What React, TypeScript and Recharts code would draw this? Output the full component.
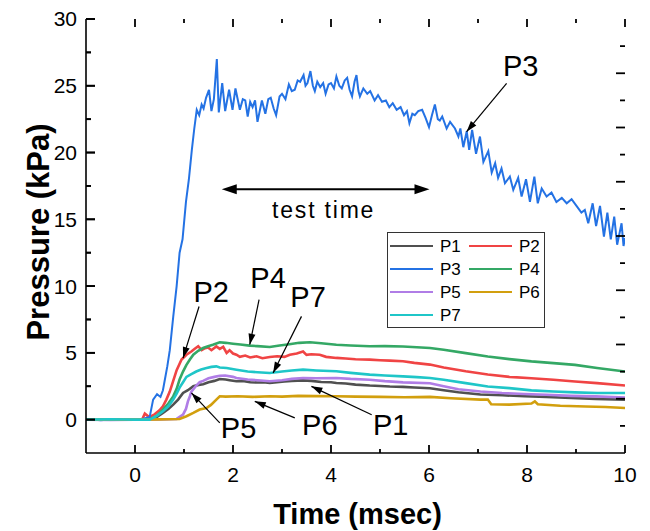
import React from "react";
import { LineChart, Line, XAxis, YAxis, ReferenceLine, ReferenceDot, Legend } from "recharts";

type Pair = [number, number];

// pressure traces, [time msec, kPa]
const P1: Pair[] = [
  [-1, 0], [-0.5, 0.02], [0, 0], [0.3, 0.02], [0.45, 0.2], [0.57, 0.5], [0.68, 0.8], [0.78, 1.12],
  [0.88, 1.5], [0.98, 2.0], [1.08, 2.2], [1.19, 2.5], [1.3, 2.6], [1.39, 2.65], [1.5, 2.8], [1.62, 2.9],
  [1.73, 3.04], [1.85, 3.0], [1.93, 2.95], [2.07, 2.87], [2.2, 2.9], [2.35, 2.8], [2.5, 2.78], [2.62, 2.8],
  [2.75, 2.74], [2.9, 2.8], [3.05, 2.85], [3.2, 2.9], [3.43, 2.94], [3.6, 2.9], [3.8, 2.82], [4.0, 2.8],
  [4.11, 2.74], [4.3, 2.7], [4.5, 2.62], [4.79, 2.55], [5.0, 2.52], [5.2, 2.48], [5.47, 2.45], [5.7, 2.4],
  [6.02, 2.35], [6.3, 2.2], [6.6, 2.05], [7.05, 1.88], [7.5, 1.82], [7.95, 1.75], [8.4, 1.7], [8.9, 1.62],
  [9.4, 1.55], [10, 1.5],
];

const P2: Pair[] = [
  [-1, 0], [-0.5, 0], [0, 0.02], [0.15, 0.05], [0.2, 0.45], [0.25, 0.3], [0.3, 0.2], [0.4, 0.4],
  [0.5, 0.7], [0.57, 1.0], [0.64, 1.5], [0.71, 2.1], [0.78, 2.9], [0.85, 3.7], [0.95, 4.5], [1.05, 4.86],
  [1.15, 5.1], [1.22, 5.3], [1.29, 5.5], [1.36, 5.2], [1.43, 5.35], [1.49, 5.4], [1.56, 5.2], [1.66, 5.48],
  [1.73, 5.3], [1.8, 5.45], [1.87, 5.0], [1.93, 5.2], [2.0, 4.95], [2.07, 4.86], [2.14, 4.7], [2.25, 4.8],
  [2.35, 4.65], [2.48, 4.74], [2.6, 4.6], [2.75, 4.69], [2.9, 4.75], [3.05, 4.7], [3.16, 4.86], [3.3, 4.95],
  [3.43, 5.1], [3.5, 4.85], [3.6, 4.9], [3.77, 4.86], [3.9, 4.7], [4.11, 4.62], [4.3, 4.58], [4.5, 4.52],
  [4.79, 4.49], [5.0, 4.45], [5.2, 4.42], [5.47, 4.37], [5.7, 4.25], [6.02, 4.12], [6.3, 3.9], [6.75, 3.62],
  [7.2, 3.38], [7.64, 3.2], [8.09, 3.1], [8.54, 2.98], [8.98, 2.86], [9.43, 2.73], [10, 2.55],
];

const P3: Pair[] = [
  [-1, 0.05], [-0.7, -0.05], [-0.4, 0.05], [-0.1, 0], [0.15, 0.05], [0.3, 0.2], [0.37, 1.5], [0.45, 1.9],
  [0.52, 1.7], [0.57, 2.2], [0.61, 3.0], [0.66, 4.0], [0.71, 5.2], [0.78, 7.7], [0.85, 10.0], [0.91, 12.5],
  [0.97, 13.5], [1.04, 16.3], [1.1, 18.0], [1.16, 20.2], [1.21, 21.8], [1.26, 23.2], [1.31, 22.8], [1.36, 23.6],
  [1.4, 23.3], [1.45, 24.1], [1.51, 24.7], [1.56, 23.1], [1.61, 24.0], [1.67, 27.0], [1.71, 23.0], [1.78, 25.2],
  [1.84, 23.1], [1.92, 24.7], [1.99, 23.2], [2.05, 24.8], [2.14, 23.2], [2.2, 24.0], [2.25, 23.9], [2.3, 22.7],
  [2.35, 23.8], [2.4, 23.4], [2.45, 23.9], [2.5, 22.3], [2.59, 23.9], [2.66, 22.9], [2.72, 24.0], [2.77, 24.1],
  [2.83, 23.3], [2.88, 22.8], [2.95, 24.2], [3.0, 24.4], [3.07, 24.0], [3.14, 25.1], [3.2, 24.6], [3.26, 24.7],
  [3.32, 25.4], [3.37, 25.3], [3.44, 25.8], [3.48, 25.0], [3.52, 25.2], [3.58, 26.1], [3.63, 25.0], [3.67, 24.6],
  [3.72, 25.3], [3.78, 24.9], [3.84, 25.2], [3.89, 24.4], [3.95, 25.1], [4.0, 25.2], [4.06, 24.8], [4.11, 25.7],
  [4.17, 25.0], [4.22, 24.8], [4.28, 25.4], [4.33, 25.6], [4.38, 24.7], [4.43, 24.2], [4.48, 25.3], [4.52, 25.8],
  [4.56, 24.6], [4.59, 24.2], [4.66, 24.8], [4.74, 24.4], [4.8, 24.6], [4.89, 23.9], [4.96, 24.3], [5.04, 23.8],
  [5.12, 23.9], [5.19, 23.4], [5.26, 23.7], [5.34, 23.2], [5.42, 23.4], [5.49, 22.8], [5.55, 23.1], [5.6, 22.2],
  [5.66, 22.9], [5.71, 22.8], [5.78, 23.1], [5.86, 23.2], [5.93, 22.6], [6.0, 21.9], [6.06, 22.8], [6.12, 23.6],
  [6.18, 22.5], [6.22, 22.4], [6.27, 22.7], [6.36, 21.8], [6.43, 22.3], [6.53, 21.8], [6.6, 21.2], [6.64, 21.8],
  [6.7, 20.4], [6.77, 21.6], [6.82, 20.2], [6.88, 21.7], [6.96, 19.9], [7.04, 21.2], [7.11, 19.3], [7.21, 20.1],
  [7.28, 18.5], [7.35, 19.2], [7.41, 18.1], [7.48, 18.8], [7.55, 17.7], [7.65, 18.2], [7.72, 17.2], [7.82, 18.1],
  [7.89, 16.7], [7.98, 18.0], [8.06, 16.3], [8.15, 18.2], [8.22, 16.2], [8.3, 17.3], [8.4, 16.7], [8.5, 17.0],
  [8.6, 16.3], [8.71, 16.6], [8.81, 16.2], [8.91, 16.5], [9.01, 16.0], [9.11, 15.5], [9.18, 15.7], [9.25, 14.7],
  [9.34, 16.2], [9.41, 14.5], [9.49, 16.0], [9.57, 13.7], [9.64, 15.5], [9.71, 13.5], [9.78, 15.2], [9.84, 13.1],
  [9.93, 14.7], [9.97, 13.0], [10, 13.6],
];

const P4: Pair[] = [
  [-1, 0], [-0.5, 0.03], [0, 0], [0.3, 0.02], [0.45, 0.3], [0.57, 0.75], [0.68, 1.2], [0.78, 1.74],
  [0.85, 2.3], [0.91, 3.0], [0.98, 3.6], [1.05, 4.1], [1.12, 4.5], [1.19, 4.86], [1.29, 5.15], [1.39, 5.36],
  [1.49, 5.5], [1.59, 5.6], [1.73, 5.79], [1.85, 5.75], [2.0, 5.68], [2.15, 5.62], [2.34, 5.54], [2.5, 5.5],
  [2.75, 5.44], [2.95, 5.55], [3.15, 5.65], [3.35, 5.75], [3.57, 5.79], [3.8, 5.72], [4.11, 5.61], [4.4, 5.55],
  [4.79, 5.49], [5.1, 5.5], [5.47, 5.47], [5.75, 5.42], [6.02, 5.36], [6.3, 5.23], [6.75, 4.98], [7.2, 4.73],
  [7.64, 4.53], [8.09, 4.36], [8.54, 4.23], [8.98, 4.1], [9.43, 3.86], [10, 3.6],
];

const P5: Pair[] = [
  [-1, 0], [-0.5, -0.02], [0, 0], [0.5, 0.02], [0.85, 0.05], [0.98, 0.37], [1.04, 0.8], [1.08, 1.37],
  [1.12, 1.75], [1.15, 2.1], [1.25, 2.55], [1.32, 2.8], [1.39, 2.9], [1.5, 3.1], [1.62, 3.2], [1.73, 3.29],
  [1.84, 3.3], [2.0, 3.2], [2.07, 3.12], [2.3, 3.0], [2.5, 2.95], [2.75, 2.87], [3.0, 2.95], [3.2, 3.05],
  [3.43, 3.12], [3.7, 3.1], [4.11, 3.12], [4.4, 3.05], [4.79, 2.99], [5.1, 2.88], [5.47, 2.79], [6.02, 2.72],
  [6.3, 2.5], [6.6, 2.28], [7.05, 2.11], [7.49, 1.99], [7.94, 1.92], [8.39, 1.86], [8.9, 1.78], [9.4, 1.74],
  [10, 1.66],
];

const P6: Pair[] = [
  [-1, 0], [-0.5, 0.02], [0, 0], [0.5, 0.02], [0.91, 0.05], [1.05, 0.25], [1.19, 0.5], [1.32, 0.75],
  [1.46, 0.87], [1.55, 1.1], [1.66, 1.5], [1.73, 1.75], [1.85, 1.72], [2.1, 1.75], [2.4, 1.7], [2.75, 1.75],
  [3.0, 1.72], [3.33, 1.78], [3.7, 1.76], [4.11, 1.75], [4.5, 1.72], [5.0, 1.7], [5.5, 1.68], [6.02, 1.7],
  [6.45, 1.6], [7.05, 1.5], [7.2, 1.5], [7.27, 1.15], [7.64, 1.12], [8.09, 1.2], [8.16, 1.37], [8.22, 1.15],
  [8.68, 1.04], [9.2, 0.98], [9.6, 0.94], [10, 0.87],
];

const P7: Pair[] = [
  [-1, 0], [-0.5, 0.03], [0, 0], [0.3, 0], [0.45, 0.3], [0.57, 0.62], [0.68, 1.0], [0.78, 1.5],
  [0.85, 1.95], [0.91, 2.4], [0.98, 2.8], [1.05, 3.2], [1.15, 3.4], [1.25, 3.6], [1.35, 3.75], [1.46, 3.86],
  [1.56, 3.95], [1.66, 3.99], [1.73, 3.9], [1.87, 3.86], [2.07, 3.74], [2.3, 3.6], [2.5, 3.55], [2.75, 3.49],
  [3.0, 3.6], [3.2, 3.68], [3.43, 3.74], [3.7, 3.68], [4.11, 3.62], [4.4, 3.5], [4.79, 3.37], [5.1, 3.3],
  [5.47, 3.24], [5.75, 3.18], [6.02, 3.12], [6.3, 2.98], [6.75, 2.73], [7.2, 2.48], [7.64, 2.36], [8.09, 2.19],
  [8.54, 2.11], [8.98, 2.04], [9.43, 1.99], [10, 1.99],
];

const SERIES = [
  { name: "P1", color: "#505050", points: P1 },
  { name: "P2", color: "#f04444", points: P2 },
  { name: "P3", color: "#2472e4", points: P3 },
  { name: "P4", color: "#34a865", points: P4 },
  { name: "P5", color: "#b07de6", points: P5 },
  { name: "P6", color: "#d29f0e", points: P6 },
  { name: "P7", color: "#1fc6c8", points: P7 },
];

const X_MAJOR = [0, 2, 4, 6, 8, 10];
const X_MINOR = [1, 3, 5, 7, 9];
const Y_MAJOR = [0, 5, 10, 15, 20, 25, 30];
const Y_MINOR = [2.5, 7.5, 12.5, 17.5, 22.5, 27.5];
const Y_DOMAIN: [number, number] = [-2.5, 30];
// the right frame has its own 16 divisions
const R_DIVS = 16;
const R_MAJOR = [2, 4, 6, 8, 10, 12, 14];
const R_MINOR = [1, 3, 5, 7, 9, 11, 13, 15];

// annotation text (baseline centre) and arrows, in data units
const LABELS = [
  { text: "P3", t: 7.87, v: 25.73 },
  { text: "P2", t: 1.556, v: 8.83 },
  { text: "P4", t: 2.716, v: 9.85 },
  { text: "P7", t: 3.533, v: 8.47 },
  { text: "P5", t: 2.114, v: -1.37 },
  { text: "P6", t: 3.772, v: -1.12 },
  { text: "P1", t: 5.22, v: -1.12 },
];

const ARROWS: { from: Pair; to: Pair }[] = [
  { from: [7.584, 25.18], to: [6.767, 21.56] },
  { from: [1.307, 8.47], to: [0.98, 4.61] },
  { from: [2.532, 8.98], to: [2.342, 5.61] },
  { from: [3.398, 7.73], to: [2.818, 3.49] },
  { from: [1.73, -0.25], to: [1.152, 2.0] },
  { from: [3.261, 0.13], to: [2.444, 1.37] },
  { from: [4.83, 0.37], to: [3.6, 2.49] },
];

const TEST_TIME: Pair[] = [[1.77, 17.25], [6.01, 17.25]];
const TEST_TIME_TEXT = { text: "test time", t: 3.85, v: 15.08 };

const FONT = '"Liberation Sans", Arial, sans-serif';
const AXIS_LINE = { stroke: "#000", strokeWidth: 1.6 };
const TICK_TEXT = { fontSize: 21, fill: "#000", fontFamily: FONT };
const TICK_W = 1.8;
const blank = () => "";

const toRows = (pts: Pair[]) => pts.map(([t, v]) => ({ t, v }));
// same pixel position on the right-hand (0..16) frame scale
const toRight = (v: number) => ((v - Y_DOMAIN[0]) / (Y_DOMAIN[1] - Y_DOMAIN[0])) * R_DIVS;

function head(x1: number, y1: number, x2: number, y2: number, len: number, half: number) {
  const a = Math.atan2(y2 - y1, x2 - x1);
  const bx = x2 - len * Math.cos(a);
  const by = y2 - len * Math.sin(a);
  const px = -Math.sin(a) * half;
  const py = Math.cos(a) * half;
  return `${x2},${y2} ${bx + px},${by + py} ${bx - px},${by - py}`;
}

function Arrow(props: any) {
  const { x1, y1, x2, y2 } = props;
  return (
    <g>
      <line x1={x1} y1={y1} x2={x2} y2={y2} stroke="#000" strokeWidth={1.2} />
      <polygon points={head(x1, y1, x2, y2, 11, 3.5)} fill="#000" />
    </g>
  );
}

function DoubleArrow(props: any) {
  const { x1, y1, x2, y2 } = props;
  return (
    <g>
      <line x1={x1 + 8} y1={y1} x2={x2 - 8} y2={y2} stroke="#000" strokeWidth={2} />
      <polygon points={head(x1, y1, x2, y2, 15, 5)} fill="#000" />
      <polygon points={head(x2, y2, x1, y1, 15, 5)} fill="#000" />
    </g>
  );
}

// inward tick marks: a reference line at the tick value, drawn only near the frame
const xTick = (len: number) => (p: any) => {
  const yb = Math.max(p.y1, p.y2);
  const yt = Math.min(p.y1, p.y2);
  return (
    <g>
      <line x1={p.x1} x2={p.x1} y1={yb} y2={yb - len} stroke="#000" strokeWidth={TICK_W} />
      <line x1={p.x1} x2={p.x1} y1={yt} y2={yt + len} stroke="#000" strokeWidth={TICK_W} />
    </g>
  );
};
const leftTick = (len: number) => (p: any) => {
  const xl = Math.min(p.x1, p.x2);
  return <line x1={xl} x2={xl + len} y1={p.y1} y2={p.y1} stroke="#000" strokeWidth={TICK_W} />;
};
const rightTick = (len: number) => (p: any) => {
  const xr = Math.max(p.x1, p.x2);
  return <line x1={xr} x2={xr - len} y1={p.y1} y2={p.y1} stroke="#000" strokeWidth={TICK_W} />;
};

function LegendBox({ payload }: any) {
  const items = payload ?? [];
  return (
    <svg width={158} height={96}>
      <rect x={0.5} y={0.5} width={157} height={95} fill="#fff" stroke="#333" strokeWidth={1} />
      {items.map((item: any, i: number) => {
        const col = i % 2;
        const row = Math.floor(i / 2);
        const lx = col === 0 ? 3 : 82;
        const cy = 14 + row * 23;
        return (
          <g key={item.value}>
            <line x1={lx} x2={lx + 43} y1={cy} y2={cy} stroke={item.color} strokeWidth={2} />
            <text x={lx + 50} y={cy} dominantBaseline="central" fontSize={17} fontFamily={FONT} fill="#000">
              {item.value}
            </text>
          </g>
        );
      })}
    </svg>
  );
}

export default function App() {
  return (
    <div style={{ position: "absolute", left: 0, top: 0, width: 650, height: 531, background: "#fff" }}>
      <LineChart width={650} height={531} margin={{ top: 19, right: 25, bottom: 0, left: 0 }}>
        <XAxis
          xAxisId="bottom"
          type="number"
          dataKey="t"
          domain={[-1, 10]}
          allowDataOverflow
          ticks={X_MAJOR}
          interval={0}
          height={78}
          tickSize={0}
          tickMargin={14}
          tickLine={false}
          tick={TICK_TEXT}
          axisLine={AXIS_LINE}
          label={{
            content: ({ viewBox }: any) => (
              <text
                x={viewBox.x + viewBox.width / 2 + 2}
                y={viewBox.y + 61}
                textAnchor="middle"
                dominantBaseline="central"
                fontSize={29}
                fontWeight="bold"
                fontFamily={FONT}
                fill="#000"
              >
                Time (msec)
              </text>
            ),
          }}
        />
        <XAxis
          xAxisId="top"
          orientation="top"
          type="number"
          dataKey="t"
          domain={[-1, 10]}
          allowDataOverflow
          ticks={X_MAJOR}
          height={0}
          tickLine={false}
          tickFormatter={blank}
          axisLine={AXIS_LINE}
        />
        <YAxis
          yAxisId="left"
          type="number"
          domain={Y_DOMAIN}
          allowDataOverflow
          ticks={Y_MAJOR}
          interval={0}
          width={86}
          tickSize={0}
          tickMargin={9}
          tickLine={false}
          tick={TICK_TEXT}
          axisLine={AXIS_LINE}
          label={{
            content: ({ viewBox }: any) => {
              const cx = viewBox.x + 38;
              const cy = viewBox.y + viewBox.height / 2 - 4;
              return (
                <text
                  x={cx}
                  y={cy}
                  transform={`rotate(-90 ${cx} ${cy})`}
                  textAnchor="middle"
                  dominantBaseline="central"
                  fontSize={31}
                  fontWeight="bold"
                  fontFamily={FONT}
                  fill="#000"
                >
                  Pressure (kPa)
                </text>
              );
            },
          }}
        />
        <YAxis
          yAxisId="right"
          orientation="right"
          type="number"
          domain={[0, R_DIVS]}
          allowDataOverflow
          ticks={R_MAJOR}
          width={0}
          tickLine={false}
          tickFormatter={blank}
          axisLine={AXIS_LINE}
        />

        {SERIES.map((s) => (
          <Line
            key={s.name}
            xAxisId="bottom"
            yAxisId="left"
            data={toRows(s.points)}
            dataKey="v"
            name={s.name}
            type="linear"
            stroke={s.color}
            strokeWidth={s.name === "P3" ? 2 : 2.6}
            dot={false}
            activeDot={false}
            isAnimationActive={false}
          />
        ))}

        {X_MAJOR.map((t) => (
          <ReferenceLine key={`xM${t}`} xAxisId="bottom" yAxisId="right" x={t} ifOverflow="visible" shape={xTick(8)} />
        ))}
        {X_MINOR.map((t) => (
          <ReferenceLine key={`xm${t}`} xAxisId="bottom" yAxisId="right" x={t} ifOverflow="visible" shape={xTick(4)} />
        ))}
        {Y_MAJOR.map((v) => (
          <ReferenceLine key={`yM${v}`} xAxisId="bottom" yAxisId="left" y={v} ifOverflow="visible" shape={leftTick(9)} />
        ))}
        {Y_MINOR.map((v) => (
          <ReferenceLine key={`ym${v}`} xAxisId="bottom" yAxisId="left" y={v} ifOverflow="visible" shape={leftTick(5)} />
        ))}
        {Y_MAJOR.map((v) => (
          <ReferenceLine key={`yMr${v}`} xAxisId="bottom" yAxisId="right" y={toRight(v)} ifOverflow="visible" shape={leftTick(9)} />
        ))}
        {Y_MINOR.map((v) => (
          <ReferenceLine key={`ymr${v}`} xAxisId="bottom" yAxisId="right" y={toRight(v)} ifOverflow="visible" shape={leftTick(5)} />
        ))}
        {R_MAJOR.map((v) => (
          <ReferenceLine key={`rM${v}`} xAxisId="bottom" yAxisId="right" y={v} ifOverflow="visible" shape={rightTick(9)} />
        ))}
        {R_MINOR.map((v) => (
          <ReferenceLine key={`rm${v}`} xAxisId="bottom" yAxisId="right" y={v} ifOverflow="visible" shape={rightTick(5)} />
        ))}

        {ARROWS.map((a, i) => (
          <ReferenceLine
            key={`arrow-${i}`}
            xAxisId="bottom"
            yAxisId="left"
            segment={[{ x: a.from[0], y: a.from[1] }, { x: a.to[0], y: a.to[1] }]}
            shape={Arrow}
          />
        ))}
        <ReferenceLine
          xAxisId="bottom"
          yAxisId="left"
          segment={[{ x: TEST_TIME[0][0], y: TEST_TIME[0][1] }, { x: TEST_TIME[1][0], y: TEST_TIME[1][1] }]}
          shape={DoubleArrow}
        />
        {LABELS.map((l) => (
          <ReferenceDot
            key={`label-${l.text}`}
            xAxisId="bottom"
            yAxisId="left"
            x={l.t}
            y={l.v}
            r={0}
            shape={({ cx, cy }: any) => (
              <text x={cx} y={cy} textAnchor="middle" fontSize={29} fontFamily={FONT} fill="#000">
                {l.text}
              </text>
            )}
          />
        ))}
        <ReferenceDot
          xAxisId="bottom"
          yAxisId="left"
          x={TEST_TIME_TEXT.t}
          y={TEST_TIME_TEXT.v}
          r={0}
          shape={({ cx, cy }: any) => (
            <text x={cx} y={cy} textAnchor="middle" fontSize={23} letterSpacing={1.8} fontFamily={FONT} fill="#000">
              {TEST_TIME_TEXT.text}
            </text>
          )}
        />

        <Legend
          layout="vertical"
          align="center"
          verticalAlign="middle"
          wrapperStyle={{ left: 387, top: 232, width: 158, height: 96 }}
          content={LegendBox}
        />
      </LineChart>
    </div>
  );
}
